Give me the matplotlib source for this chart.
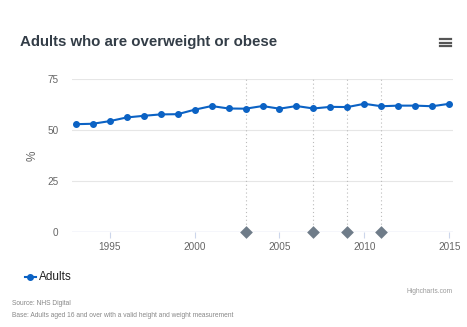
import matplotlib
matplotlib.use("Agg")
import matplotlib.pyplot as plt
from matplotlib.lines import Line2D

# data
years = list(range(1993, 2016))
adults = [52.9, 53.1, 54.4, 56.2, 57.0, 57.7, 57.8, 60.0, 61.8, 60.6, 60.5, 61.8,
          60.5, 61.8, 60.6, 61.4, 61.3, 62.9, 61.7, 62.0, 62.0, 61.7, 62.9]
flag_years = [2003, 2007, 2009, 2011]
yticks = [0, 25, 50, 75]
xticks = [1995, 2000, 2005, 2010, 2015]

plt.rcParams['font.family'] = ['Liberation Sans', 'DejaVu Sans']

fig = plt.figure(figsize=(4.67, 3.27), dpi=100)
ax = fig.add_axes([0.155, 0.2905, 0.815, 0.4675])

for y in yticks[1:]:
    ax.axhline(y, color='#e6e6e6', lw=0.8, zorder=0)
ax.axhline(0, color='#ccd6eb', lw=1.0, zorder=1)

for fy in flag_years:
    ax.axvline(fy, color='#bbbbbb', lw=0.8, ls=(0, (1, 2.5)), zorder=1)

ax.plot(years, adults, color='#0b62c4', lw=1.5, marker='o', ms=4, zorder=3)
ax.scatter(flag_years, [0] * len(flag_years), marker='D', s=42, color='#6f7c89',
           zorder=4, clip_on=False, linewidths=0)

ax.set_xlim(1992.8, 2015.22)
ax.set_ylim(0, 75)
ax.set_yticks(yticks)
ax.set_xticks(xticks)
for s in ax.spines.values():
    s.set_visible(False)
ax.tick_params(axis='y', length=0, labelsize=7.2, labelcolor='#666666', pad=10)
ax.tick_params(axis='x', length=4, color='#ccd6eb', labelsize=7.2, labelcolor='#666666', pad=3)
ax.set_ylabel('%', color='#666666', fontsize=8.5)
ax.yaxis.set_label_coords(-0.09, 0.5)

fig.text(0.043, 0.871, 'Adults who are overweight or obese', fontsize=10.8,
         fontweight='bold', color='#333d47', va='center')

# menu icon
for yy in [0.880, 0.869, 0.858]:
    fig.add_artist(Line2D([0.943, 0.966], [yy, yy], color='#555555', lw=1.6))

# legend
fig.add_artist(Line2D([0.053, 0.077], [0.153, 0.153], color='#0b62c4', lw=1.5))
fig.add_artist(Line2D([0.065], [0.153], color='#0b62c4', marker='o', ms=4))
fig.text(0.084, 0.153, 'Adults', fontsize=8.5, color='#222222', va='center')

fig.text(0.970, 0.109, 'Highcharts.com', fontsize=4.8, color='#999999', ha='right', va='center')
fig.text(0.026, 0.073, 'Source: NHS Digital', fontsize=4.8, color='#888888', va='center')
fig.text(0.026, 0.036, 'Base: Adults aged 16 and over with a valid height and weight measurement',
         fontsize=4.8, color='#888888', va='center')

fig.savefig('out.png', dpi=100, facecolor='white')
